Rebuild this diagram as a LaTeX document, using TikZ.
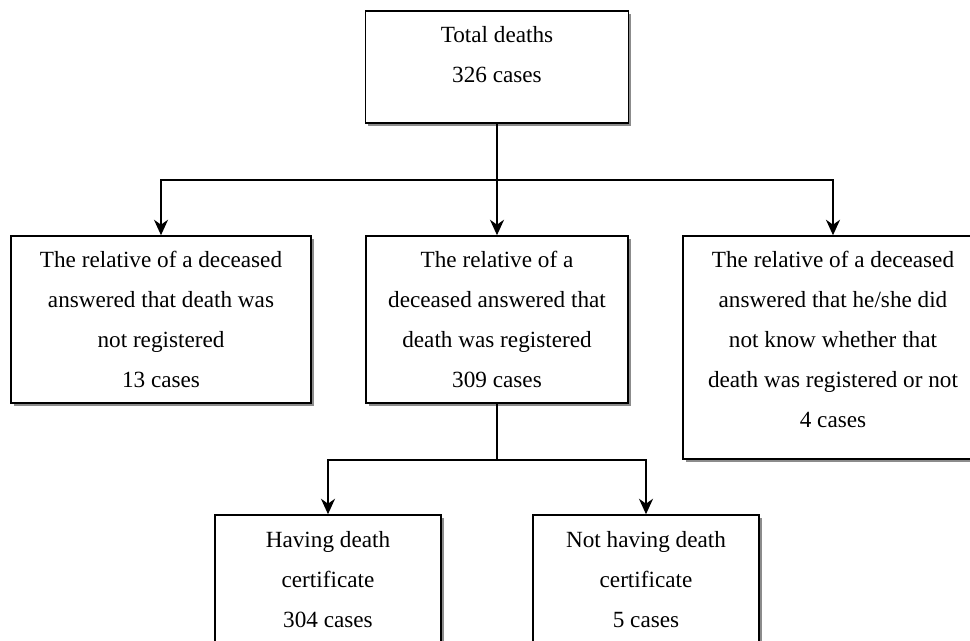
\documentclass[tikz,border=0pt]{standalone}
\usepackage{fontspec}
\setmainfont{Liberation Serif}
\usetikzlibrary{arrows.meta,positioning,shadows}
\definecolor{shadecol}{RGB}{140,140,140}

\begin{document}
\begin{tikzpicture}[>={Stealth[length=11pt,width=10pt,inset=3.5pt]},
  box/.style={draw,line width=1.1pt,fill=white,inner sep=0pt,
    drop shadow={shadow xshift=0.07cm,shadow yshift=-0.07cm,fill=shadecol,opacity=1}},
  txt/.style={align=center,inner sep=0pt,font=\fontsize{16.5}{28.45}\selectfont},
  link/.style={line width=1.1pt,->}]
  \path[use as bounding box,clip] (0,0) rectangle (24.25,16.025);
  % boxes
  \node[box,minimum width=6.575cm,minimum height=2.8cm] (total) at (12.425,14.35){};
  \node[box,minimum width=7.5cm,minimum height=4.175cm] (notreg) at (4.025,8.0375){};
  \node[box,minimum width=6.55cm,minimum height=4.175cm] (reg) at (12.425,8.0375){};
  \node[box,minimum width=7.5cm,minimum height=5.575cm] (unknown) at (20.825,7.3375){};
  \node[box,minimum width=5.65cm,minimum height=3.6cm] (hascert) at (8.2,1.35){};
  \node[box,minimum width=5.65cm,minimum height=3.6cm] (nocert) at (16.15,1.35){};
  % texts
  \node[txt,below=0.4cm of total.north] (totaltxt) {Total deaths\\326 cases};
  \node[txt,below=0.4cm of notreg.north] (notregtxt)
     {The relative of a deceased\\answered that death was\\not registered\\13 cases};
  \node[txt,below=0.4cm of reg.north] (regtxt)
     {The relative of a\\deceased answered that\\death was registered\\309 cases};
  \node[txt,below=0.4cm of unknown.north] (unknowntxt)
     {The relative of a deceased\\answered that he/she did\\not know whether that\\death was registered or not\\4 cases};
  \node[txt,below=0.42cm of hascert.north] (hascerttxt) {Having death\\certificate\\304 cases};
  \node[txt,below=0.42cm of nocert.north] (nocerttxt) {Not having death\\certificate\\5 cases};
  % connectors
  \draw[link] (total.south) -- ++(0,-1.4) -| (notreg.north);
  \draw[link] (total.south) -- (reg.north);
  \draw[link] (total.south) -- ++(0,-1.4) -| (unknown.north);
  \draw[link] (reg.south) -- ++(0,-1.4) -| (hascert.north);
  \draw[link] (reg.south) -- ++(0,-1.4) -| (nocert.north);
\end{tikzpicture}
\end{document}
